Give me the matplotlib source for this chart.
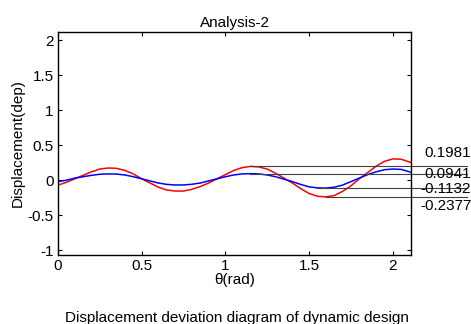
import numpy as np
import matplotlib.pyplot as plt

plt.rcParams['font.family'] = ['Liberation Sans', 'DejaVu Sans']

theta = [0.00, 0.05, 0.10, 0.15, 0.20, 0.25, 0.30, 0.35, 0.40, 0.45,
         0.50, 0.55, 0.60, 0.65, 0.70, 0.75, 0.80, 0.85, 0.90, 0.95,
         1.00, 1.05, 1.10, 1.15, 1.20, 1.25, 1.30, 1.35, 1.40, 1.45,
         1.50, 1.55, 1.60, 1.65, 1.70, 1.75, 1.80, 1.85, 1.90, 1.95,
         2.00, 2.05, 2.10, 2.11]
red = [-0.07, -0.03, 0.02, 0.07, 0.12, 0.16, 0.175, 0.17, 0.14, 0.09,
       0.02, -0.04, -0.10, -0.14, -0.155, -0.155, -0.13, -0.09, -0.04, 0.02,
       0.08, 0.14, 0.18, 0.198, 0.19, 0.16, 0.10, 0.03, -0.04, -0.12,
       -0.19, -0.23, -0.238, -0.22, -0.16, -0.08, 0.02, 0.11, 0.20, 0.27,
       0.305, 0.30, 0.26, 0.25]
blue = [-0.02, 0.00, 0.03, 0.05, 0.07, 0.085, 0.09, 0.088, 0.075, 0.05,
        0.02, -0.01, -0.04, -0.06, -0.068, -0.068, -0.058, -0.04, -0.01, 0.02,
        0.05, 0.075, 0.09, 0.094, 0.09, 0.075, 0.05, 0.015, -0.02, -0.06,
        -0.095, -0.11, -0.113, -0.10, -0.07, -0.02, 0.03, 0.08, 0.12, 0.15,
        0.16, 0.155, 0.12, 0.11]

# marked extreme values and where their guide lines start
mark_vals = [0.1981, 0.0941, -0.1132, -0.2377]
mark_start = [1.15, 1.15, 1.55, 1.60]
mark_text = ['0.1981', '0.0941', '-0.1132', '-0.2377']

fig = plt.figure(figsize=(4.71, 3.24), dpi=100)
ax = fig.add_axes([0.123, 0.213, 0.750, 0.688])

ax.plot(theta, red, color='red', lw=1.1)
ax.plot(theta, blue, color='blue', lw=1.1)

xmax = 2.11
ax.set_xlim(0, xmax)
ax.set_ylim(-1.07, 2.12)

# guide lines running out past the right edge to the labels
x_end = xmax + 56 / 167.3
for v, s in zip(mark_vals, mark_start):
    ax.plot([s, x_end], [v, v], color='0.25', lw=0.8, clip_on=False)

offsets = [(13, 13), (13, 0), (9, -1), (9, -9)]
for v, t, off in zip(mark_vals, mark_text, offsets):
    ax.annotate(t, xy=(1, v), xycoords=('axes fraction', 'data'),
                xytext=off, textcoords='offset pixels',
                ha='left', va='center', fontsize=11, annotation_clip=False)

ax.set_xticks([0, 0.5, 1, 1.5, 2])
ax.set_xticklabels(['0', '0.5', '1', '1.5', '2'])
ax.set_yticks([-1, -0.5, 0, 0.5, 1, 1.5, 2])
ax.set_yticklabels(['-1', '-0.5', '0', '0.5', '1', '1.5', '2'])
ax.tick_params(direction='in', top=True, right=True, length=3, width=0.8,
               labelsize=11, pad=3)
for sp in ax.spines.values():
    sp.set_linewidth(1.0)

ax.set_title('Analysis-2', fontsize=11, pad=4)
ax.set_xlabel('θ(rad)', fontsize=11, labelpad=0)
ax.set_ylabel('Displacement(dep)', fontsize=11, labelpad=2)

fig.text(0.5 * (65 + 409) / 471, 1 - 318 / 324, 'Displacement deviation diagram of dynamic design',
         ha='center', va='center', fontsize=11)

fig.savefig('out.png', dpi=100)
